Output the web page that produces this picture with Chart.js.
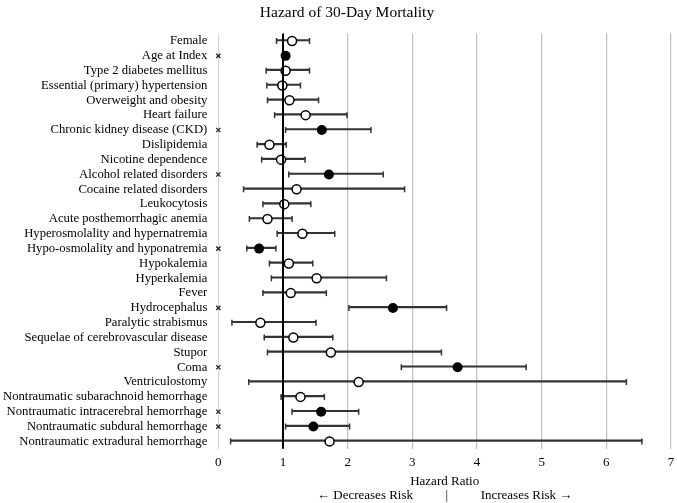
<!DOCTYPE html>
<html>
<head>
<meta charset="utf-8">
<script src="https://cdn.jsdelivr.net/npm/chart.js@4.4.1/dist/chart.umd.min.js"></script>
<style>
  html, body { margin: 0; padding: 0; background: #fff; }
  #wrap { width: 677px; height: 503px; }
</style>
</head>
<body>
<div id="wrap"><canvas id="chart"></canvas></div>
<script>
// Risk factors, top to bottom
const factors = [
    "Female", "Age at Index", "Type 2 diabetes mellitus", "Essential (primary) hypertension",
    "Overweight and obesity", "Heart failure", "Chronic kidney disease (CKD)", "Dislipidemia",
    "Nicotine dependence", "Alcohol related disorders", "Cocaine related disorders", "Leukocytosis",
    "Acute posthemorrhagic anemia", "Hyperosmolality and hypernatremia", "Hypo-osmolality and hyponatremia",
    "Hypokalemia", "Hyperkalemia", "Fever", "Hydrocephalus", "Paralytic strabismus",
    "Sequelae of cerebrovascular disease", "Stupor", "Coma", "Ventriculostomy",
    "Nontraumatic subarachnoid hemorrhage", "Nontraumatic intracerebral hemorrhage",
    "Nontraumatic subdural hemorrhage", "Nontraumatic extradural hemorrhage"
];

// Hazard ratios and 95% CI bounds
const hazard = [1.14, 1.04, 1.04, 0.99, 1.10, 1.35, 1.60, 0.79, 0.97, 1.71, 1.21, 1.02, 0.76, 1.30,
    0.63, 1.09, 1.52, 1.12, 2.70, 0.65, 1.16, 1.74, 3.70, 2.17, 1.27, 1.59, 1.47, 1.72];
const lower = [0.90, 1.02, 0.74, 0.75, 0.76, 0.87, 1.04, 0.60, 0.67, 1.09, 0.39, 0.69, 0.48, 0.91,
    0.44, 0.79, 0.82, 0.69, 2.02, 0.21, 0.71, 0.76, 2.83, 0.47, 0.97, 1.14, 1.04, 0.19];
const upper = [1.41, 1.06, 1.41, 1.27, 1.55, 1.99, 2.36, 1.05, 1.34, 2.55, 2.88, 1.43, 1.14, 1.80,
    0.89, 1.46, 2.60, 1.67, 3.53, 1.51, 1.77, 3.45, 4.76, 6.31, 1.64, 2.17, 2.03, 6.55];

// Statistically significant factors (marked with x and a filled dot)
const significant = [false, true, false, false, false, false, true, false, false, true, false, false,
    false, false, true, false, false, false, true, false, false, false, true, false, false, true, true, false];

const xMin = 0;
const xMax = 7;

Chart.defaults.font.family = "'Liberation Serif', 'Times New Roman', serif";
Chart.defaults.color = "#000";

const ink = "#333";

const pointsWhere = (flag) => factors
    .map((f, i) => ({ x: hazard[i], y: f, keep: significant[i] === flag }))
    .filter(p => p.keep);

const datasets = [
    {
        // CI whiskers
        type: "bar",
        data: lower.map((l, i) => [l, upper[i]]),
        backgroundColor: ink,
        barThickness: 1.5,
        order: 6
    },
    {
        // lower caps
        type: "line",
        showLine: false,
        data: factors.map((f, i) => ({ x: lower[i], y: f })),
        pointStyle: "line",
        rotation: 90,
        pointRadius: 3,
        borderWidth: 1.5,
        borderColor: ink,
        clip: false,
        order: 5
    },
    {
        // upper caps
        type: "line",
        showLine: false,
        data: factors.map((f, i) => ({ x: upper[i], y: f })),
        pointStyle: "line",
        rotation: 90,
        pointRadius: 3,
        borderWidth: 1.5,
        borderColor: ink,
        clip: false,
        order: 5
    },
    {
        // non-significant estimates
        type: "line",
        showLine: false,
        data: pointsWhere(false),
        pointRadius: 4.5,
        borderWidth: 1.5,
        borderColor: "#000",
        backgroundColor: "#fff",
        clip: false,
        order: 4
    },
    {
        // reference line at HR = 1
        type: "line",
        yAxisID: "yRef",
        data: [{ x: 1, y: 0 }, { x: 1, y: 1 }],
        borderColor: "#000",
        borderWidth: 2,
        pointRadius: 0,
        clip: false,
        order: 3
    },
    {
        // significant estimates
        type: "line",
        showLine: false,
        data: pointsWhere(true),
        pointRadius: 5,
        borderWidth: 0,
        backgroundColor: "#000",
        clip: false,
        order: 2
    },
    {
        // x marks beside significant labels
        type: "line",
        showLine: false,
        data: factors.filter((f, i) => significant[i]).map(f => ({ x: 0, y: f })),
        pointStyle: "crossRot",
        pointRadius: 3,
        borderWidth: 1.3,
        borderColor: "#222",
        clip: false,
        order: 1
    }
];

new Chart(document.getElementById("chart"), {
    data: { labels: factors, datasets },
    options: {
        indexAxis: "y",
        responsive: true,
        maintainAspectRatio: false,
        animation: false,
        // negative right padding only widens the title box (centres it like the original)
        layout: { padding: { left: 0, right: -17, top: 0, bottom: 0 } },
        plugins: {
            legend: { display: false },
            tooltip: { enabled: false },
            title: {
                display: true,
                text: "Hazard of 30-Day Mortality",
                font: { size: 15.5, weight: "normal" },
                color: "#000",
                padding: { top: 4, bottom: 11 }
            }
        },
        scales: {
            x: {
                type: "linear",
                min: xMin,
                max: xMax,
                ticks: { stepSize: 1, padding: 6, font: { size: 13 }, color: "#000" },
                afterFit: (scale) => { scale.paddingRight = 2; },
                grid: {
                    drawTicks: false,
                    lineWidth: 1.2,
                    color: (ctx) => {
                        if (ctx.tick && ctx.tick.value === 0) return "#d6d6d6";
                        if (ctx.tick && ctx.tick.value === 1) return "rgba(0,0,0,0)";
                        return "#bfbfbf";
                    }
                },
                border: { display: false },
                title: {
                    display: true,
                    text: ["Hazard Ratio", "\u2190 Decreases Risk          |          Increases Risk \u2192"],
                    font: { size: 13, lineHeight: 1.1 },
                    color: "#000",
                    padding: { top: -2, bottom: 0 }
                }
            },
            y: {
                type: "category",
                labels: factors,
                grid: { display: false },
                border: { display: false },
                ticks: { padding: 3, font: { size: 12.7 }, color: "#000", autoSkip: false }
            },
            yRef: {
                type: "linear",
                axis: "y",
                position: "left",
                min: 0,
                max: 1,
                display: false
            }
        }
    }
});
</script>
</body>
</html>
